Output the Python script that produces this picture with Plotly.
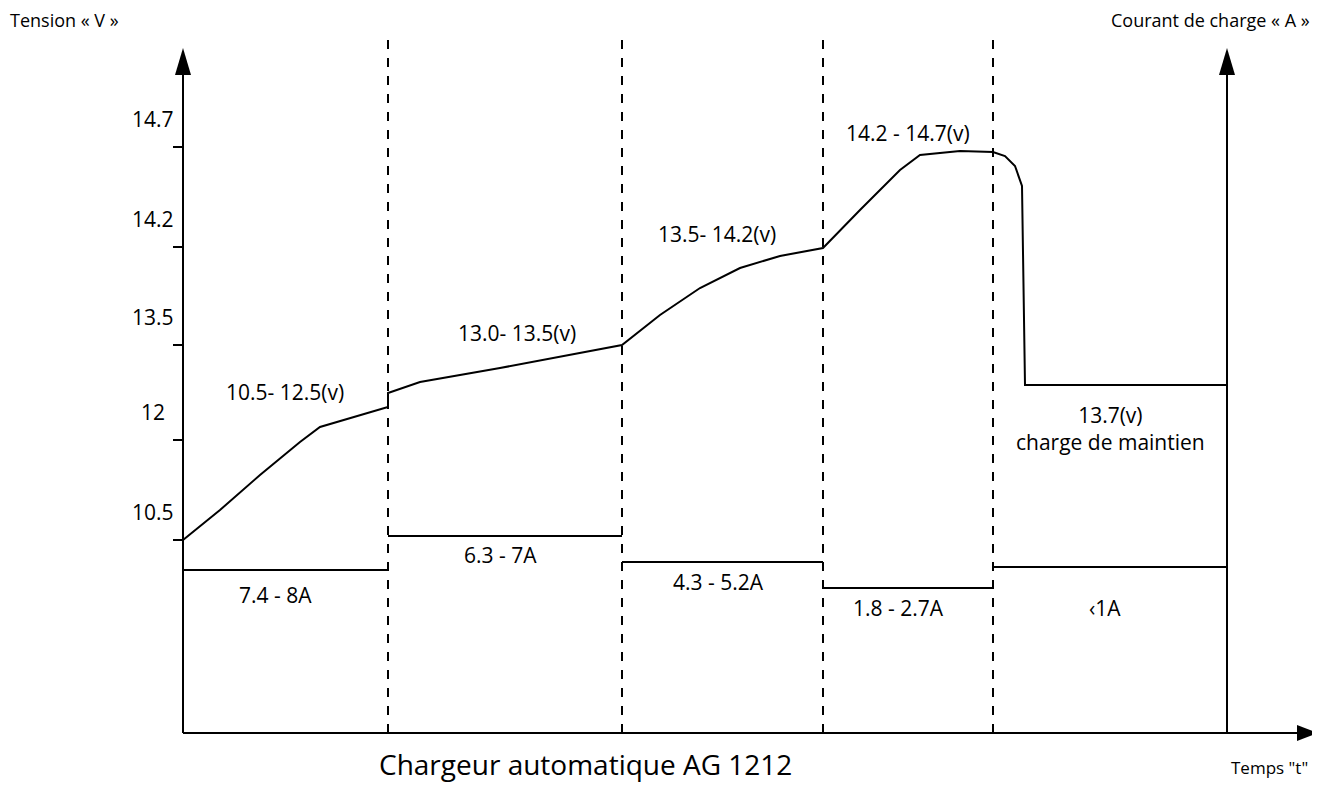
import plotly.graph_objects as go

# y in "level" units: 10.5V -> 0, each labelled step ~1 level
tick_vals = [0, 1.0, 1.95, 2.93, 3.93]
tick_text = ["10.5", "12", "13.5", "14.2", "14.7"]

volt_t = [183, 220, 260, 300, 320, 388, 388, 420, 500, 622, 660, 700, 740, 780, 823,
          860, 900, 920, 960, 993, 1005, 1015, 1022, 1025, 1227]
volt_y = [0, 0.30, 0.65, 0.98, 1.13, 1.33, 1.47, 1.58, 1.72, 1.95, 2.25, 2.52, 2.72, 2.84, 2.92,
          3.30, 3.70, 3.85, 3.89, 3.88, 3.84, 3.74, 3.54, 1.55, 1.55]

phase_edges = [183, 388, 622, 823, 993, 1227]
current_lvl = [-0.30, 0.04, -0.22, -0.48, -0.27]

volt_labels = ["10.5- 12.5(v)", "13.0- 13.5(v)", "13.5- 14.2(v)", "14.2 - 14.7(v)", "13.7(v)<br>charge de maintien"]
volt_label_x = [285, 517, 717, 908, 1110]
volt_label_y = [1.48, 2.07, 3.06, 4.07, 1.12]
cur_labels = ["7.4 - 8A", "6.3 - 7A", "4.3 - 5.2A", "1.8 - 2.7A", "‹1A"]
cur_label_x = [275, 500, 718, 898, 1105]
cur_label_y = [-0.55, -0.15, -0.42, -0.68, -0.68]

BASE = -1.93
FONT = "Open Sans, DejaVu Sans, sans-serif"

fig = go.Figure()
fig.add_trace(go.Scatter(x=volt_t, y=volt_y, mode="lines", line=dict(color="black", width=2), hoverinfo="skip"))
cx, cy = [], []
for i, c in enumerate(current_lvl):
    cx += [phase_edges[i], phase_edges[i + 1], None]
    cy += [c, c, None]
fig.add_trace(go.Scatter(x=cx, y=cy, mode="lines", line=dict(color="black", width=2), hoverinfo="skip"))

shapes = []
L = dict(color="black", width=2)
shapes.append(dict(type="line", x0=183, x1=183, y0=BASE, y1=4.7, line=L))
shapes.append(dict(type="line", x0=1227, x1=1227, y0=BASE, y1=4.7, line=L))
shapes.append(dict(type="line", x0=183, x1=1300, y0=BASE, y1=BASE, line=L))
for xa in (183, 1227):
    shapes.append(dict(type="path", path=f"M {xa-8},4.65 L {xa},4.92 L {xa+8},4.65 Z", fillcolor="black", line=dict(width=0)))
shapes.append(dict(type="path", path=f"M 1297,{BASE+0.08} L 1318,{BASE} L 1297,{BASE-0.08} Z", fillcolor="black", line=dict(width=0)))
for xe in phase_edges[1:5]:
    shapes.append(dict(type="line", x0=xe, x1=xe, y0=BASE, y1=5.0, line=dict(color="black", width=2, dash="dash")))
for tv in tick_vals:
    shapes.append(dict(type="line", x0=173, x1=183, y0=tv, y1=tv, line=L))

def f(s):
    return dict(size=s, family=FONT, color="black")

ann = []
for tv, tt in zip(tick_vals, tick_text):
    ann.append(dict(x=153, y=tv + 0.28, text=tt, showarrow=False, font=f(21)))
for t, x, y in zip(volt_labels, volt_label_x, volt_label_y):
    ann.append(dict(x=x, y=y, text=t, showarrow=False, font=f(21)))
for t, x, y in zip(cur_labels, cur_label_x, cur_label_y):
    ann.append(dict(x=x, y=y, text=t, showarrow=False, font=f(21)))
ann.append(dict(x=8, y=5.2, xanchor="left", text="Tension « V »", showarrow=False, font=f(18)))
ann.append(dict(x=1312, y=5.2, xanchor="right", text="Courant de charge « A »", showarrow=False, font=f(18)))
ann.append(dict(x=1310, y=-2.27, xanchor="right", text='Temps "t"', showarrow=False, font=f(17)))
ann.append(dict(x=585, y=-2.24, text="Chargeur automatique AG 1212", showarrow=False, font=f(28)))

# browser body has 8px margin: figure spans page pixels 8..1312 x 8..785
fig.update_layout(width=1304, height=777, margin=dict(l=0, r=0, t=0, b=0),
                  plot_bgcolor="white", paper_bgcolor="white", showlegend=False,
                  xaxis=dict(range=[8, 1312], visible=False),
                  yaxis=dict(range=[-2.45, 5.32], visible=False),
                  shapes=shapes, annotations=ann)
fig.write_html("out.html")
